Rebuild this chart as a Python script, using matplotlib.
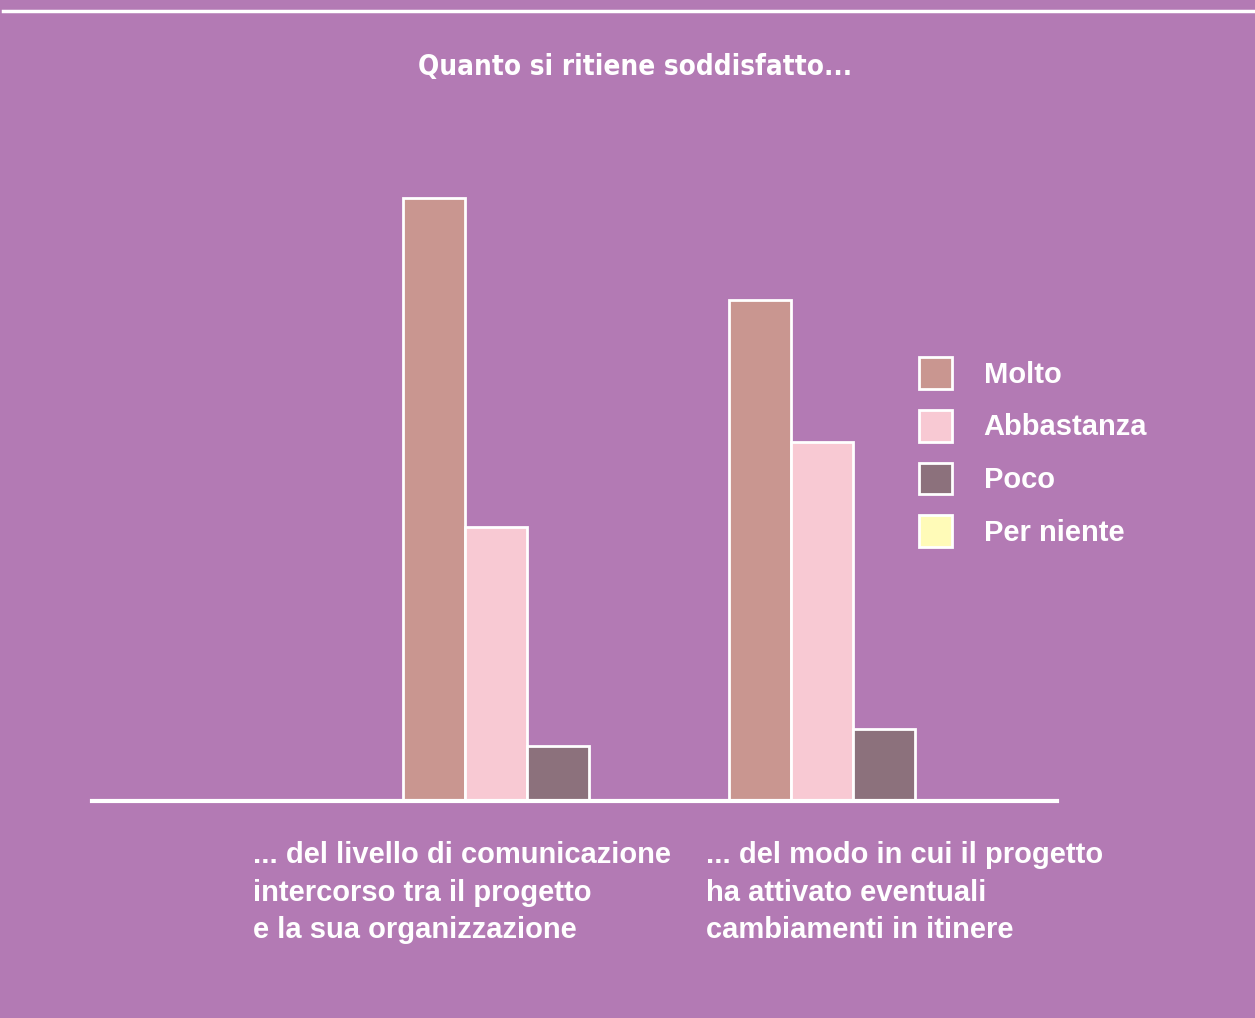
import numpy as np
import matplotlib
matplotlib.use('Agg')
import matplotlib.pyplot as plt
from matplotlib.patches import Patch
from matplotlib.lines import Line2D

# ── Data ────────────────────────────────────────────────────────────────────
categories = [
    '... del livello di comunicazione\nintercorso tra il progetto\ne la sua organizzazione',
    '... del modo in cui il progetto\nha attivato eventuali\ncambiamenti in itinere',
]
series   = ['Molto', 'Abbastanza', 'Poco', 'Per niente']
molto      = [64.7, 53.8]
abbastanza = [29.4, 38.5]
poco       = [5.9, 7.7]
per_niente = [0.0, 0.0]
title = 'Quanto si ritiene soddisfatto...'

# ── Style ───────────────────────────────────────────────────────────────────
BG     = '#B37AB4'
COLORS = ['#C99690', '#F8C9D3', '#8C717C', '#FFFBB8']
LABEL_FONT = ['Liberation Sans', 'DejaVu Sans']

fig = plt.figure(figsize=(12.55, 10.18), dpi=100, facecolor=BG)
W, H = 1255, 1018
ax = fig.add_axes([92 / W, (H - 801) / H, (1057 - 92) / W, (801 - 100) / H])
ax.set_facecolor(BG)

x = np.arange(len(categories))
bw = 62 / 326
values = [molto, abbastanza, poco, per_niente]
for i, (vals, col) in enumerate(zip(values, COLORS)):
    ax.bar(x + (i - 2) * bw, vals, width=bw, align='edge', color=col,
           edgecolor='white', linewidth=2, label=series[i], zorder=2)

ax.set_xlim(-1.334, 1.626)
ax.set_ylim(0, 701 / 9.32)
for s in ax.spines.values():
    s.set_visible(False)
ax.set_xticks([])
ax.set_yticks([])
ax.axhline(0, color='white', lw=3, zorder=3, clip_on=False)

# category labels under the groups
for xi, lab in zip(x, categories):
    ax.annotate(lab, xy=(xi - 2 * bw, 0), xycoords='data',
                xytext=(-150 if xi == 0 else -23, -40), textcoords='offset pixels',
                ha='left', va='top', color='white', fontsize=21,
                fontweight='bold', family=LABEL_FONT, linespacing=1.44)

# title
fig.text(635 / W, 1 - 67 / H, title, ha='center', va='center', color='white',
         fontsize=20, fontweight='bold', family='DejaVu Sans',
         fontstretch='condensed')

# top rule
fig.add_artist(Line2D([3 / W, 1], [1 - 11 / H, 1 - 11 / H], color='white', lw=2.5))

# legend
handles = [Patch(facecolor=c, edgecolor='white', linewidth=2, label=s)
           for c, s in zip(COLORS, series)]
leg = fig.legend(handles=handles, loc='upper left',
                 bbox_to_anchor=(919 / W, 1 - 357 / H), frameon=False,
                 borderpad=0, borderaxespad=0,
                 handlelength=1.12, handleheight=1.3, handletextpad=1.1,
                 labelspacing=0.72,
                 prop={'family': LABEL_FONT, 'weight': 'bold', 'size': 21})
for t in leg.get_texts():
    t.set_color('white')

fig.savefig('out.png', dpi=100, facecolor=BG)
